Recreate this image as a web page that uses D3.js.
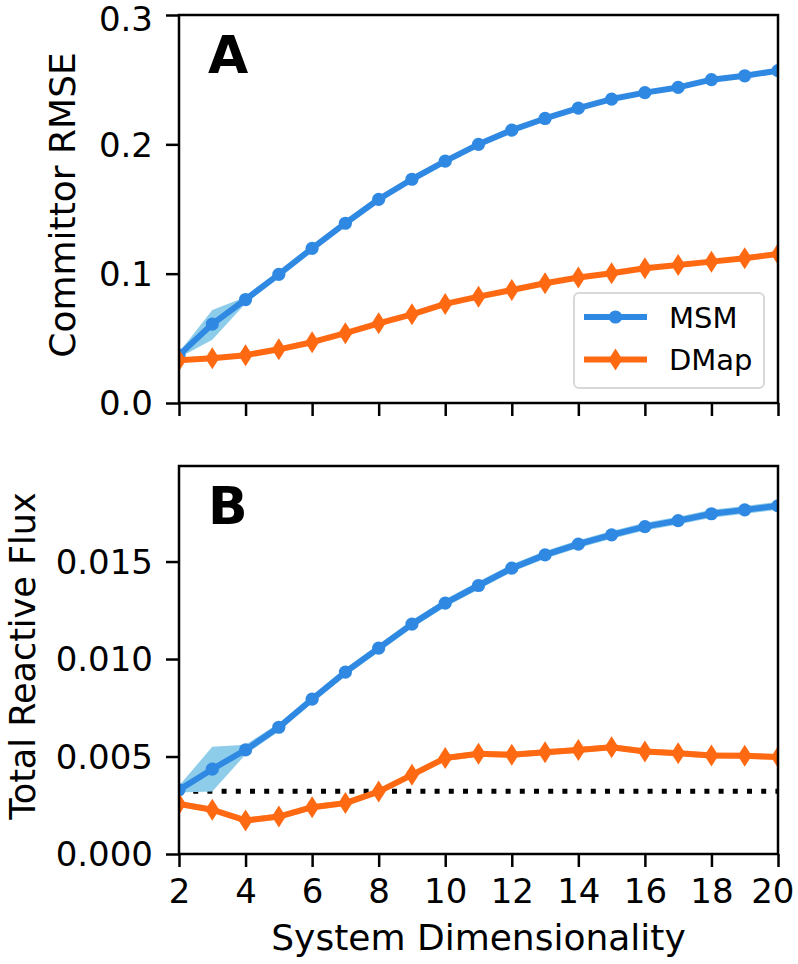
<!DOCTYPE html>
<html>
<head>
<meta charset="utf-8">
<script src="https://cdn.jsdelivr.net/npm/d3@7"></script>
<style>
  html, body { margin: 0; padding: 0; background: #fff; }
  svg { display: block; font-family: "DejaVu Sans", sans-serif; }
</style>
</head>
<body>
<svg id="chart" width="798" height="964"></svg>
<script>
// ---------- data ----------
const dims = [2,3,4,5,6,7,8,9,10,11,12,13,14,15,16,17,18,19,20];

const msmRmse   = [0.037,0.061,0.080,0.0995,0.1196,0.139,0.1575,0.173,0.187,0.200,0.211,0.220,0.228,0.235,0.240,0.244,0.250,0.253,0.257];
const msmRmseLo = [0.035,0.049,0.077,0.098,0.118,0.1375,0.156,0.1715,0.1855,0.1985,0.2095,0.2185,0.2265,0.2335,0.2385,0.2425,0.2485,0.2515,0.2555];
const msmRmseHi = [0.039,0.072,0.082,0.101,0.1212,0.1405,0.159,0.1745,0.1885,0.2015,0.2125,0.2215,0.2295,0.2365,0.2415,0.2455,0.2515,0.2545,0.2585];

const dmapRmse   = [0.033,0.0346,0.037,0.0415,0.047,0.054,0.0616,0.0686,0.0766,0.0822,0.0874,0.0926,0.097,0.1003,0.1042,0.1067,0.1093,0.112,0.1152];
const dmapRmseLo = [0.0318,0.0334,0.0358,0.0403,0.0458,0.0528,0.0604,0.0674,0.0754,0.081,0.0862,0.0914,0.0958,0.0991,0.103,0.1055,0.1081,0.1108,0.114];
const dmapRmseHi = [0.0342,0.0358,0.0382,0.0427,0.0482,0.0552,0.0628,0.0698,0.0778,0.0834,0.0886,0.0938,0.0982,0.1015,0.1054,0.1079,0.1105,0.1132,0.1164];

const msmFlux   = [0.00329,0.00435,0.00534,0.0065,0.00794,0.00933,0.01056,0.01179,0.01287,0.01377,0.01466,0.01534,0.01589,0.01637,0.01679,0.0171,0.01745,0.01765,0.01786];
const msmFluxLo = [0.00315,0.0032,0.0051,0.0063,0.00774,0.00913,0.01036,0.01159,0.01267,0.01357,0.01446,0.01514,0.01569,0.01617,0.01659,0.0169,0.01725,0.01745,0.01766];
const msmFluxHi = [0.0035,0.0055,0.0056,0.0067,0.00814,0.00953,0.01076,0.01199,0.01307,0.01397,0.01486,0.01554,0.01609,0.01657,0.01699,0.0173,0.01765,0.01785,0.01806];

const dmapFlux   = [0.00257,0.00227,0.00172,0.00192,0.0024,0.00261,0.0032,0.00406,0.00492,0.00514,0.00509,0.00522,0.00534,0.00548,0.00526,0.00517,0.00505,0.00504,0.00497];
const dmapFluxLo = [0.00242,0.00212,0.00157,0.00177,0.00225,0.00246,0.00305,0.00391,0.00477,0.00499,0.00494,0.00507,0.00519,0.00533,0.00511,0.00502,0.0049,0.00489,0.00482];
const dmapFluxHi = [0.00272,0.00242,0.00187,0.00207,0.00255,0.00276,0.00335,0.00421,0.00507,0.00529,0.00524,0.00537,0.00549,0.00563,0.00541,0.00532,0.0052,0.00519,0.00512];

const fluxReference = 0.00322;

const xTicks = [2,4,6,8,10,12,14,16,18,20];
const rmseTicks = [0.0,0.1,0.2,0.3];
const fluxTicks = [0.000,0.005,0.010,0.015];
const seriesNames = ["MSM","DMap"];

// ---------- styles ----------
const BLUE = "#2f89e2", BLUE_BAND = "#8dcdea";
const ORANGE = "#ff6912", ORANGE_BAND = "#ffa36b";
const LW = 6;

const svg = d3.select("#chart");
const left = 179, right = 778;
const panels = [
  {top: 15, bottom: 403, domain: [0, 0.3], ticks: rmseTicks, fmt: d3.format(".1f"),
   label: "Committor RMSE", letter: "A", labelX: 75, labelSize: 36,
   series: [
     {name: "MSM", v: msmRmse, lo: msmRmseLo, hi: msmRmseHi, color: BLUE, band: BLUE_BAND, bandOp: 1, marker: "circle"},
     {name: "DMap", v: dmapRmse, lo: dmapRmseLo, hi: dmapRmseHi, color: ORANGE, band: ORANGE_BAND, bandOp: 0.7, marker: "diamond"}
   ], legend: true, showX: false},
  {top: 466, bottom: 854, domain: [0, 0.0199], ticks: fluxTicks, fmt: d3.format(".3f"),
   label: "Total Reactive Flux", letter: "B", labelX: 35, labelSize: 35,
   series: [
     {name: "MSM", v: msmFlux, lo: msmFluxLo, hi: msmFluxHi, color: BLUE, band: BLUE_BAND, bandOp: 1, marker: "circle"},
     {name: "DMap", v: dmapFlux, lo: dmapFluxLo, hi: dmapFluxHi, color: ORANGE, band: ORANGE_BAND, bandOp: 0.7, marker: "diamond"}
   ], legend: false, showX: true, ref: fluxReference}
];

const x = d3.scaleLinear().domain([2, 20]).range([left, right]);

function diamondPath(cx, cy, w, h) {
  return `M${cx},${cy - h/2}L${cx + w/2},${cy}L${cx},${cy + h/2}L${cx - w/2},${cy}Z`;
}

panels.forEach((p, pi) => {
  const y = d3.scaleLinear().domain(p.domain).range([p.bottom, p.top]);
  const g = svg.append("g");
  const clipId = "clip" + pi;
  svg.append("clipPath").attr("id", clipId)
    .append("rect").attr("x", left).attr("y", p.top).attr("width", right - left).attr("height", p.bottom - p.top);

  const plot = g.append("g").attr("clip-path", `url(#${clipId})`);

  if (p.ref !== undefined) {
    plot.append("line")
      .attr("x1", x(2)).attr("x2", x(20))
      .attr("y1", y(p.ref)).attr("y2", y(p.ref))
      .attr("stroke", "#000").attr("stroke-width", 5)
      .attr("stroke-dasharray", "5 9.2");
  }

  p.series.forEach(s => {
    const area = d3.area().x((d, i) => x(dims[i])).y0((d, i) => y(s.lo[i])).y1((d, i) => y(s.hi[i]));
    plot.append("path").datum(s.v).attr("d", area).attr("fill", s.band).attr("fill-opacity", s.bandOp).attr("stroke", "none");
    const line = d3.line().x((d, i) => x(dims[i])).y(d => y(d));
    plot.append("path").datum(s.v).attr("d", line).attr("fill", "none")
      .attr("stroke", s.color).attr("stroke-width", LW).attr("stroke-linejoin", "round");
    if (s.marker === "circle") {
      plot.selectAll(null).data(s.v).enter().append("circle")
        .attr("cx", (d, i) => x(dims[i])).attr("cy", d => y(d)).attr("r", 6.6).attr("fill", s.color);
    } else {
      plot.selectAll(null).data(s.v).enter().append("path")
        .attr("d", (d, i) => diamondPath(x(dims[i]), y(d), 14, 22)).attr("fill", s.color);
    }
  });

  // frame
  g.append("rect").attr("x", left).attr("y", p.top).attr("width", right - left).attr("height", p.bottom - p.top)
    .attr("fill", "none").attr("stroke", "#000").attr("stroke-width", 2.5);

  // y axis
  const yAxis = d3.axisLeft(y).tickValues(p.ticks).tickFormat(p.fmt).tickSize(13).tickPadding(13);
  const ya = g.append("g").attr("transform", `translate(${left},0)`).call(yAxis);
  ya.select(".domain").remove();
  ya.selectAll(".tick line").attr("stroke", "#000").attr("stroke-width", 2.5);
  ya.selectAll(".tick text").attr("font-size", 34).attr("font-family", "DejaVu Sans").attr("fill", "#000")
    .attr("dy", d => (y(d) - p.top < 5 ? "0.45em" : "0.35em"));

  // x axis
  const xAxis = d3.axisBottom(x).tickValues(xTicks).tickSize(13).tickPadding(12)
    .tickFormat(p.showX ? d3.format("d") : () => "");
  const xa = g.append("g").attr("transform", `translate(0,${p.bottom})`).call(xAxis);
  xa.select(".domain").remove();
  xa.selectAll(".tick line").attr("stroke", "#000").attr("stroke-width", 2.5);
  xa.selectAll(".tick text").attr("font-size", 34).attr("font-family", "DejaVu Sans").attr("fill", "#000");
  if (p.showX) {
    // keep the last label inside the picture, as in the reference
    xa.selectAll(".tick").filter(d => d === 20).select("text").attr("text-anchor", "end").attr("dx", "16");
  }

  // y label
  g.append("text")
    .attr("transform", `translate(${p.labelX},${(p.top + p.bottom) / 2 - 4}) rotate(-90)`)
    .attr("text-anchor", "middle").attr("font-size", p.labelSize).attr("fill", "#000")
    .text(p.label);

  // panel letter
  g.append("text").attr("x", 208).attr("y", p.top + 58)
    .attr("font-family", "DejaVu Sans").attr("font-weight", "bold").attr("font-size", 52)
    .attr("fill", "#000").text(p.letter);

  if (p.legend) {
    const lg = g.append("g");
    lg.append("rect").attr("x", 574).attr("y", 293).attr("width", 190).attr("height", 95)
      .attr("rx", 5).attr("fill", "#fff").attr("fill-opacity", 0.85)
      .attr("stroke", "#d8d8d8").attr("stroke-width", 2);
    p.series.forEach((s, i) => {
      const ly = 317 + i * 42.5;
      lg.append("line").attr("x1", 584).attr("x2", 647).attr("y1", ly).attr("y2", ly)
        .attr("stroke", s.color).attr("stroke-width", LW);
      if (s.marker === "circle") {
        lg.append("circle").attr("cx", 615.5).attr("cy", ly).attr("r", 6.6).attr("fill", s.color);
      } else {
        lg.append("path").attr("d", diamondPath(615.5, ly, 14, 22)).attr("fill", s.color);
      }
      lg.append("text").attr("x", 669).attr("y", ly + 10.5).attr("font-size", 29).attr("fill", "#000")
        .text(seriesNames[i]);
    });
  }
});

// x label
svg.append("text").attr("x", (left + right) / 2).attr("y", 950)
  .attr("text-anchor", "middle").attr("font-size", 36).attr("fill", "#000")
  .text("System Dimensionality");
</script>
</body>
</html>
